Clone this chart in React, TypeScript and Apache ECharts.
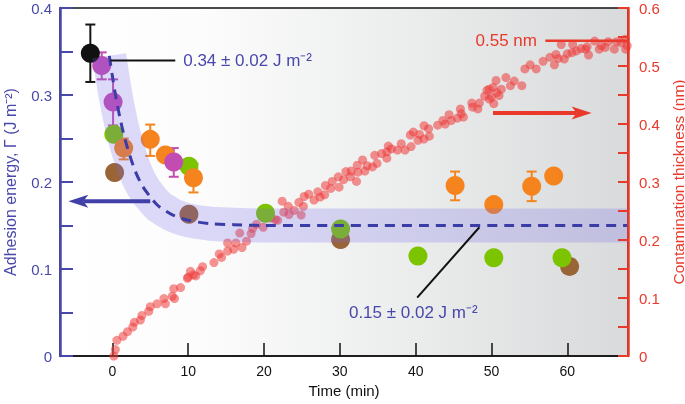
import React, { useEffect, useRef } from 'react';
import * as echarts from 'echarts';

const FONT = '"Liberation Sans", Arial, Helvetica, sans-serif';
const BLUE = '#4848aa';
const RED = '#e8392b';

const xTicks = [0, 10, 20, 30, 40, 50, 60];

// Adhesion energy points [time (min), Γ (J m^-2)]
const blackPts = [[-2.9, 0.348]];
const blackErr = [[-2.9, 0.315, 0.381]];
const magentaPts = [[-1.4, 0.334], [0.1, 0.292], [8.1, 0.223]];
const magentaErr = [[-1.4, 0.318, 0.349], [0.1, 0.265, 0.318], [8.1, 0.206, 0.239]];
const greenPts = [[0.2, 0.255], [10.1, 0.218], [20.2, 0.164], [30.1, 0.146], [40.3, 0.115], [50.3, 0.113], [59.3, 0.113]];
const orangePts = [[1.5, 0.239], [5.0, 0.249], [7.0, 0.231], [10.7, 0.205], [45.2, 0.196], [50.3, 0.174], [55.3, 0.195], [58.2, 0.207]];
const orangeErr = [[1.5, 0.226, 0.25], [5.0, 0.23, 0.266], [10.7, 0.188, 0.221], [45.2, 0.179, 0.212], [55.3, 0.178, 0.212]];
const brownPts = [[0.3, 0.211], [10.1, 0.163], [30.1, 0.134], [60.3, 0.103]];

// Fitted decay curve (dashed)
const fitT = [-0.4, 0, 0.5, 1, 1.5, 2, 3, 4, 5, 6, 7, 8, 10, 13, 16, 20, 30, 68];
const fitG = [0.345, 0.322, 0.296, 0.274, 0.255, 0.239, 0.213, 0.195, 0.183, 0.173, 0.167, 0.162, 0.156, 0.152, 0.151, 0.15, 0.15, 0.15];

// Contamination thickness [time (min), thickness (nm)]
const thickness = [
  [0.2, 0.0], [0.4, 0.011], [0.6, 0.027], [1.4, 0.034], [2.0, 0.042], [2.7, 0.05], [2.9, 0.058], [3.7, 0.062],
  [3.9, 0.07], [4.8, 0.077], [5.0, 0.085], [5.9, 0.09], [6.8, 0.099], [7.0, 0.09], [7.9, 0.103], [8.1, 0.116],
  [8.2, 0.099], [9.0, 0.118], [9.9, 0.134], [10.0, 0.136], [10.3, 0.146], [10.7, 0.14], [11.0, 0.138], [11.6, 0.147],
  [11.9, 0.154], [13.4, 0.161], [14.1, 0.176], [14.4, 0.17], [15.2, 0.181], [15.2, 0.195], [16.0, 0.184], [16.3, 0.195],
  [16.8, 0.212], [17.1, 0.187], [17.7, 0.198], [18.3, 0.211], [18.5, 0.22], [19.0, 0.227], [19.9, 0.222], [20.9, 0.238],
  [21.5, 0.235], [21.8, 0.234], [22.4, 0.267], [22.6, 0.248], [23.2, 0.258], [23.3, 0.244], [24.0, 0.251], [24.6, 0.265],
  [24.9, 0.243], [25.2, 0.258], [25.3, 0.275], [25.9, 0.279], [26.6, 0.269], [27.1, 0.283], [27.4, 0.274], [28.0, 0.278],
  [28.1, 0.294], [28.8, 0.289], [29.0, 0.301], [29.8, 0.309], [29.9, 0.291], [30.5, 0.304], [30.8, 0.318], [31.4, 0.309],
  [31.5, 0.319], [32.2, 0.301], [32.3, 0.329], [32.4, 0.317], [33.0, 0.338], [33.3, 0.319], [33.6, 0.328], [34.3, 0.326],
  [34.6, 0.346], [34.9, 0.332], [35.5, 0.349], [36.2, 0.352], [36.2, 0.341], [36.4, 0.362], [36.8, 0.357], [37.6, 0.355],
  [38.1, 0.366], [38.6, 0.355], [39.3, 0.381], [39.4, 0.361], [39.7, 0.386], [40.3, 0.372], [40.5, 0.382], [41.1, 0.374],
  [41.1, 0.397], [41.7, 0.392], [41.8, 0.379], [42.9, 0.398], [43.6, 0.406], [43.9, 0.4], [44.4, 0.416], [44.7, 0.406],
  [45.5, 0.41], [45.9, 0.426], [46.0, 0.418], [46.3, 0.412], [47.4, 0.436], [47.5, 0.429], [48.2, 0.426], [48.4, 0.436],
  [49.1, 0.448], [49.4, 0.458], [49.7, 0.443], [49.7, 0.46], [50.0, 0.446], [50.2, 0.463], [50.3, 0.435], [50.6, 0.475],
  [50.7, 0.454], [51.0, 0.449], [51.3, 0.46], [51.9, 0.48], [52.5, 0.466], [53.0, 0.474], [54.0, 0.466], [54.4, 0.495],
  [55.1, 0.502], [55.9, 0.495], [56.8, 0.508], [57.7, 0.515], [58.3, 0.502], [58.5, 0.52], [58.8, 0.513], [59.2, 0.537],
  [59.6, 0.512], [60.0, 0.521], [60.6, 0.523], [60.7, 0.537], [61.2, 0.526], [61.8, 0.53], [62.4, 0.529], [62.6, 0.533],
  [62.8, 0.519], [63.6, 0.543], [64.2, 0.529], [64.5, 0.535], [65.0, 0.532], [65.4, 0.542], [66.2, 0.529], [66.5, 0.542],
  [67.1, 0.54], [67.6, 0.546], [67.7, 0.529], [67.9, 0.535],
];

const fmt = (v: number) => {
  const k = Math.round(v * 100);
  if (k % 10 !== 0) return '';
  return k === 0 ? '0' : (k / 100).toFixed(1);
};

const errSeries = (data: number[][], color: string) => ({
  type: 'custom',
  data,
  encode: { x: 0, y: [1, 2] },
  silent: true,
  renderItem: (params: any, api: any) => {
    const x = api.value(0);
    const lo = api.coord([x, api.value(1)]);
    const hi = api.coord([x, api.value(2)]);
    const w = 5;
    const st = { stroke: color, lineWidth: 2 };
    return {
      type: 'group',
      children: [
        { type: 'line', shape: { x1: lo[0], y1: lo[1], x2: hi[0], y2: hi[1] }, style: st },
        { type: 'line', shape: { x1: lo[0] - w, y1: lo[1], x2: lo[0] + w, y2: lo[1] }, style: st },
        { type: 'line', shape: { x1: hi[0] - w, y1: hi[1], x2: hi[0] + w, y2: hi[1] }, style: st },
      ],
    };
  },
});

const pts = (data: number[][], color: string) => ({
  type: 'scatter',
  data,
  symbolSize: 19,
  itemStyle: { color, opacity: 1 },
  silent: true,
});

export default function App() {
  const ref = useRef<HTMLDivElement>(null);
  useEffect(() => {
    const chart = echarts.init(ref.current!, null, { renderer: 'svg' });
    const fit = fitT.map((t, i) => [t, fitG[i]]);
    chart.setOption({
      animation: false,
      textStyle: { fontFamily: FONT },
      grid: {
        left: 60, right: 57, top: 8, bottom: 48, show: true, borderColor: '#111', borderWidth: 1.5,
        containLabel: false, outerBoundsMode: 'none',
        backgroundColor: new echarts.graphic.LinearGradient(0, 0, 1, 0, [
          { offset: 0, color: '#ffffff' },
          { offset: 0.25, color: '#fcfcfc' },
          { offset: 0.6, color: '#eceded' },
          { offset: 1, color: '#d8dadb' },
        ]),
      },
      xAxis: [{
        type: 'value', min: -6.9, max: 68,
        axisLine: { show: true, onZero: false, lineStyle: { color: '#111', width: 1.5 } },
        axisTick: { show: true, inside: true, length: 13, lineStyle: { color: '#111', width: 1.5 }, customValues: xTicks },
        axisLabel: { color: '#111', fontSize: 14, margin: 8, customValues: xTicks, fontFamily: FONT },
        splitLine: { show: false },
        name: 'Time (min)', nameLocation: 'middle', nameGap: 26,
        nameTextStyle: { color: '#111', fontSize: 15, fontFamily: FONT },
      }],
      yAxis: [
        {
          type: 'value', min: 0, max: 0.4, interval: 0.05, position: 'left', z: 5,
          axisLine: { show: true, onZero: false, lineStyle: { color: BLUE, width: 2.5 } },
          axisTick: { show: true, inside: true, length: 13, lineStyle: { color: BLUE, width: 2 } },
          axisLabel: { color: BLUE, fontSize: 15, lineHeight: 12, margin: 8, formatter: fmt, fontFamily: FONT },
          splitLine: { show: false },
          name: 'Adhesion energy, Γ (J m⁻²)', nameLocation: 'middle', nameGap: 42, nameRotate: 90,
          nameTextStyle: { color: BLUE, fontSize: 16, lineHeight: 16, fontFamily: FONT },
        },
        {
          type: 'value', min: 0, max: 0.6, interval: 0.05, position: 'right', z: 5,
          axisLine: { show: true, onZero: false, lineStyle: { color: RED, width: 2.5 } },
          axisTick: { show: true, inside: true, length: 10, lineStyle: { color: RED, width: 2 } },
          axisLabel: { color: RED, fontSize: 15, lineHeight: 12, margin: 11, formatter: fmt, fontFamily: FONT },
          splitLine: { show: false },
          name: 'Contamination thickness (nm)', nameLocation: 'middle', nameGap: 29, nameRotate: 90,
          nameTextStyle: { color: RED, fontSize: 15.5, lineHeight: 15, fontFamily: FONT },
        },
      ],
      series: [
        {
          type: 'scatter', yAxisIndex: 1, data: thickness, symbolSize: 9, silent: true,
          itemStyle: { color: '#ee3b3b', opacity: 0.55 },
        },
        {
          type: 'line', data: fit, symbol: 'none', smooth: 0.3, silent: true,
          lineStyle: { width: 34, color: 'rgba(115,105,235,0.24)', cap: 'butt', join: 'round' },
        },
        {
          type: 'line', data: fit, symbol: 'none', smooth: 0.3, silent: true,
          lineStyle: { width: 3, color: '#3c3ca6', type: [10, 7] },
        },
        pts(brownPts, '#9a6536'),
        pts(greenPts, '#7dc400'),
        errSeries(orangeErr, '#f3851f'),
        pts(orangePts, '#f5841f'),
        errSeries(magentaErr, '#c04fb0'),
        pts(magentaPts, '#c34cb3'),
        errSeries(blackErr, '#151515'),
        pts(blackPts, '#111111'),
      ],
    });

    const L = (p: number[]) => chart.convertToPixel({ xAxisIndex: 0, yAxisIndex: 0 }, p) as number[];
    const R = (p: number[]) => chart.convertToPixel({ xAxisIndex: 0, yAxisIndex: 1 }, p) as number[];
    const line = (a: number[], b: number[], color: string, w: number) => ({
      type: 'line', z: 100, silent: true,
      shape: { x1: a[0], y1: a[1], x2: b[0], y2: b[1] },
      style: { stroke: color, lineWidth: w },
    });
    const arrow = (tail: number[], tip: number[], color: string) => {
      const dir = Math.sign(tip[0] - tail[0]);
      const len = 20, half = 6.5, notch = 5;
      const back = tip[0] - dir * len;
      return [
        line(tail, [back + dir * notch, tip[1]], color, 4),
        {
          type: 'polygon', z: 101, silent: true,
          shape: { points: [[tip[0], tip[1]], [back, tip[1] - half], [back + dir * notch, tip[1]], [back, tip[1] + half]] },
          style: { fill: color },
        },
      ];
    };
    const text = (p: number[], s: string, color: string, align: string) => ({
      type: 'text', z: 102, silent: true, x: p[0], y: p[1],
      style: { text: s, fill: color, font: `17px ${FONT}`, align, verticalAlign: 'middle' },
    });

    chart.setOption({
      graphic: [
        line(L([-0.26, 0.3396]), L([8.3, 0.3396]), '#111', 2),
        text(L([9.35, 0.3396]), '0.34 ± 0.02 J m⁻²', BLUE, 'left'),
        line(L([48.4, 0.148]), L([40.2, 0.067]), '#111', 2),
        text(L([31.2, 0.05]), '0.15 ± 0.02 J m⁻²', BLUE, 'left'),
        line(R([57.1, 0.5436]), R([68, 0.5436]), RED, 2.5),
        text(R([56.0, 0.5436]), '0.55 nm', RED, 'right'),
        ...arrow(R([50.2, 0.419]), R([63.2, 0.419]), RED),
        ...arrow(L([5.0, 0.178]), L([-5.8, 0.178]), '#4040a8'),
      ],
    });
    return () => chart.dispose();
  }, []);
  return <div ref={ref} style={{ position: 'fixed', left: 0, top: 0, width: 685, height: 404 }} />;
}
